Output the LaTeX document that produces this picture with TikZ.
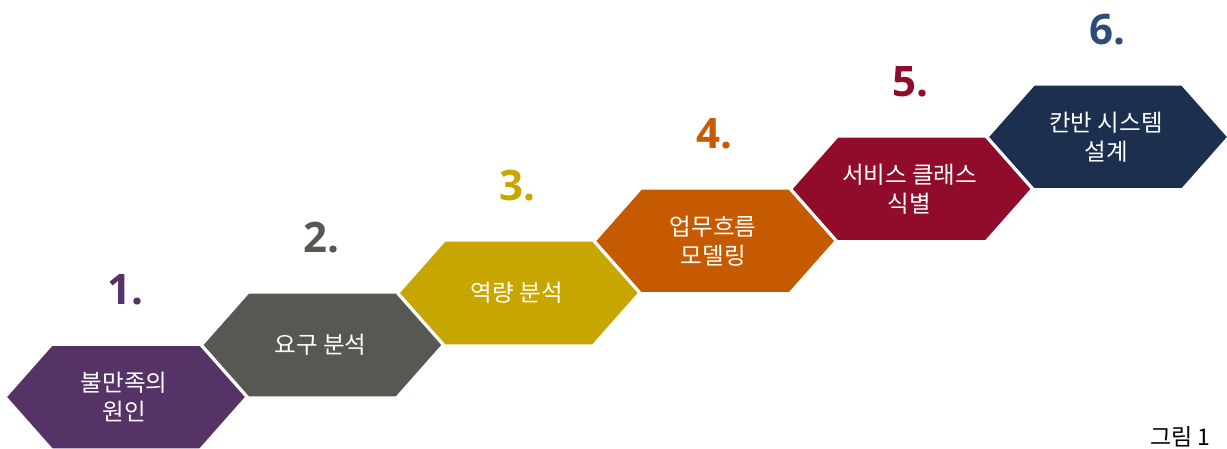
\documentclass[tikz,border=0pt]{standalone}
\usepackage{fontspec}
\setmainfont{Noto Sans CJK KR}
\newfontfamily\numfont{Open Sans}
\definecolor{hexA}{HTML}{553366}
\definecolor{hexB}{HTML}{585852}
\definecolor{hexC}{HTML}{C8A600}
\definecolor{hexD}{HTML}{C65A00}
\definecolor{hexE}{HTML}{900C2A}
\definecolor{hexF}{HTML}{1C2F4E}
\definecolor{numF}{HTML}{2E4B78}
\tikzset{
  hexbox/.style={draw=white, line width=1.5pt, line join=miter},
  hextext/.style={text=white, align=center, font=\fontsize{23.5}{29}\selectfont},
  hexnum/.style={font=\numfont\bfseries\fontsize{42}{42}\selectfont}
}

\begin{document}
\begin{tikzpicture}[x=1pt,y=-1pt]
\useasboundingbox (0,0) rectangle (1227,449);
% Draw the six steps
\foreach \i/\col/\numcol/\txt in {1/hexA/hexA/{불만족의\\원인},
    2/hexB/hexB/{요구 분석}, 3/hexC/hexC/{역량 분석},
    4/hexD/hexD/{업무흐름\\모델링}, 5/hexE/hexE/{서비스 클래스\\식별},
    6/hexF/numF/{칸반 시스템\\설계}} {
  \pgfmathsetmacro\cx{126+196.4*(\i-1)}
  \pgfmathsetmacro\cy{397-52*(\i-1)}
  \filldraw [hexbox, fill=\col] (\cx-120,\cy) -- (\cx-74,\cy-52) -- (\cx+74,\cy-52)
    -- (\cx+120,\cy) -- (\cx+74,\cy+52) -- (\cx-74,\cy+52) -- cycle;
  \node [hextext] (step\i) at (\cx-2,\cy) {\txt};
  \node [hexnum, text=\numcol] (num\i) at (\cx-1,\cy-107) {\i.};
}
% Caption
\node [font=\fontsize{23}{26}\selectfont, anchor=east] (caption) at (1214,437) {그림 1};
\end{tikzpicture}
\end{document}
